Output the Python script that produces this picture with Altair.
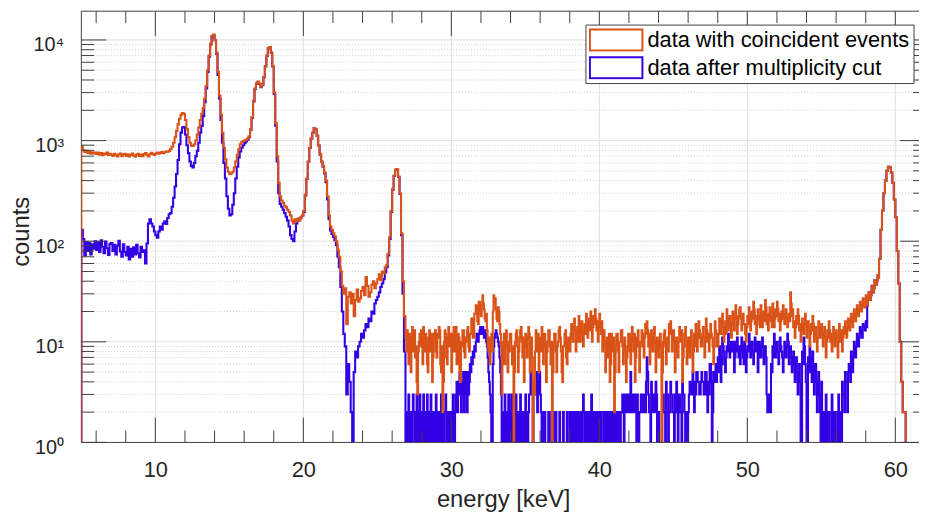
import altair as alt
import pandas as pd
import numpy as np

# ---------------- data ----------------
# Segment A: 0.1 keV bins starting at 4.9 keV (smooth part of the spectra)
A_START, A_STEP = 4.9, 0.1
# Segment B: 0.05 keV bins starting at 26.9 keV (noisy part)
B_START, B_STEP = 26.9, 0.05
# Segment C: 0.1 keV bins starting at 58.9 keV (Am-241 line)
C_START, C_STEP = 58.9, 0.1

coincident_A = [
    0,
    870, 800, 770, 790, 755, 775, 740, 765, 745, 760,            # 5
    735, 760, 725, 750, 715, 745, 730, 760, 720, 740,            # 6
    725, 705, 740, 715, 695, 730, 745, 700, 725, 740,            # 7
    705, 730, 695, 720, 745, 710, 690, 725, 740, 705,            # 8
    725, 700, 735, 750, 715, 695, 735, 755, 730, 720,            # 9
    745, 760, 740, 755, 770, 750, 765, 780, 775, 790,            # 10
    825, 870, 950, 1080, 1250, 1450, 1650, 1800, 1880, 1850,     # 11
    1600, 1300, 1080, 950, 890, 883, 920, 1000, 1150, 1350,      # 12
    1600, 1850, 2100, 2600, 3500, 5000, 7000, 9200, 11000, 11300,  # 13
    10000, 7500, 4800, 2800, 1800, 1200, 850, 650, 540, 490,     # 14
    467, 470, 490, 540, 620, 720, 820, 920, 960, 990,            # 15
    1000, 1020, 1050, 1100, 1300, 1700, 2500, 3300, 3700, 3860,  # 16
    3700, 3440, 3600, 4300, 5500, 7000, 8300, 8520, 7500, 5500,  # 17
    3000, 1500, 700, 380, 280, 254, 240, 225, 217, 205,          # 18
    195, 180, 160, 150, 165, 158, 168, 160, 172, 180,            # 19
    200, 290, 420, 620, 850, 1050, 1200, 1336, 1300, 1120,       # 20
    900, 731, 620, 560, 480, 400, 280, 180, 140, 130,            # 21
    120, 112, 100, 82, 70, 50, 36, 30, 34, 15,                   # 22
    28, 31, 24, 30, 18, 26, 33, 25, 27, 32,                      # 23
    35, 29, 44, 36, 28, 31, 37, 40, 34, 38,                      # 24
    42, 47, 41, 50, 48, 55, 58, 75, 110, 200,                    # 25
    330, 450, 515, 520, 440, 300, 120, 40, 18,                   # 26.0-26.8
]
coincident_B = [
    11, 8, 13, 9, 6, 12, 10, 5, 11, 14, 8, 12, 13, 7, 9, 4, 3, 8, 10, 12,           # 26.9
    9, 13, 11, 6, 14, 9, 8, 12, 10, 6, 5, 11, 13, 8, 9, 12, 4, 7, 12, 10,           # 27.9
    13, 8, 7, 12, 11, 14, 13, 6, 5, 9, 2, 4, 10, 13, 12, 7, 6, 11, 14, 9,           # 28.9
    9, 12, 5, 8, 12, 14, 8, 11, 14, 6, 6, 12, 11, 5, 4, 10, 9, 13, 13, 8,           # 29.9
    7, 11, 10, 13, 14, 9, 8, 12, 12, 17, 17, 11, 11, 19, 19, 23, 22, 16, 15, 25,    # 30.9
    25, 20, 18, 23, 29, 24, 21, 17, 16, 19, 13, 9, 8, 11, 6, 9, 12, 8, 20, 29,      # 31.9
    24, 27, 21, 17, 16, 22, 20, 15, 12, 9, 3, 6, 10, 12, 6, 9, 13, 10, 5, 8,        # 32.9
    10, 12, 12, 8, 6, 9, 0, 5, 10, 12, 13, 9, 5, 8, 11, 13, 14, 10, 7, 11,          # 33.9
    4, 9, 12, 10, 7, 11, 14, 12, 5, 8, 11, 7, 0, 4, 3, 8, 13, 11, 8, 12,            # 34.9
    5, 9, 11, 8, 14, 12, 6, 9, 12, 10, 4, 8, 10, 13, 13, 9, 6, 10, 0, 5,            # 35.9
    9, 12, 12, 8, 5, 9, 10, 13, 14, 11, 8, 5, 4, 9, 9, 12, 13, 7, 6, 10,            # 36.9
    11, 8, 8, 12, 15, 11, 10, 14, 17, 13, 8, 11, 14, 10, 18, 15, 10, 13, 16, 12,    # 37.9
    9, 13, 15, 12, 19, 16, 11, 14, 17, 13, 20, 18, 10, 14, 18, 15, 21, 17, 13, 16,  # 38.9
    10, 14, 19, 15, 12, 16, 8, 11, 13, 9, 5, 10, 11, 7, 7, 12, 4, 6, 12, 9,         # 39.9
    8, 11, 2, 5, 9, 12, 12, 8, 5, 10, 10, 13, 13, 9, 6, 10, 11, 8, 4, 7,            # 40.9
    9, 12, 12, 8, 6, 11, 14, 10, 8, 12, 4, 7, 11, 9, 13, 10, 5, 9, 10, 13,          # 41.9
    12, 9, 7, 11, 15, 12, 16, 13, 9, 12, 6, 10, 13, 9, 8, 11, 14, 10, 5, 9,         # 42.9
    11, 8, 7, 10, 12, 9, 0, 5, 10, 12, 13, 9, 6, 10, 11, 8, 15, 12, 16, 13,         # 43.9
    8, 11, 13, 10, 5, 8, 11, 9, 7, 10, 14, 11, 10, 13, 4, 7, 9, 12, 14, 10,         # 44.9
    6, 9, 11, 8, 7, 11, 13, 9, 5, 8, 12, 9, 15, 12, 8, 11, 16, 13, 11, 9,           # 45.9
    9, 12, 14, 11, 7, 10, 17, 13, 10, 12, 8, 11, 15, 12, 11, 9, 6, 9, 16, 13,       # 46.9
    12, 9, 9, 12, 17, 14, 12, 16, 19, 14, 10, 13, 16, 12, 21, 17, 13, 15, 18, 14,   # 47.9
    11, 15, 20, 16, 13, 17, 23, 18, 12, 15, 18, 21, 22, 17, 13, 16, 19, 15, 15, 12, # 48.9
    10, 14, 18, 15, 22, 19, 13, 16, 20, 17, 25, 21, 15, 18, 12, 15, 21, 18, 17, 14, # 49.9
    23, 19, 14, 17, 20, 16, 26, 22, 15, 19, 13, 16, 22, 18, 17, 14, 24, 20, 14, 17, # 50.9
    21, 18, 25, 21, 16, 19, 13, 16, 20, 17, 23, 19, 15, 18, 21, 17, 14, 16, 19, 16, # 51.9
    31, 24, 18, 21, 14, 16, 11, 14, 18, 15, 21, 18, 13, 15, 10, 13, 17, 14, 12, 15, # 52.9
    19, 16, 11, 14, 16, 13, 9, 12, 15, 13, 18, 15, 10, 13, 14, 11, 8, 11, 16, 13,   # 53.9
    11, 14, 15, 12, 9, 12, 14, 11, 7, 10, 13, 11, 16, 13, 10, 12, 8, 11, 14, 12,    # 54.9
    9, 12, 13, 10, 7, 10, 15, 12, 10, 13, 8, 11, 14, 12, 16, 13, 11, 14, 17, 14,    # 55.9
    13, 16, 19, 16, 14, 17, 21, 18, 16, 19, 23, 20, 18, 21, 25, 22, 20, 23, 27, 24, # 56.9
    22, 25, 29, 26, 23, 26, 31, 28, 26, 29, 36, 32, 31, 34, 41, 38, 37, 40, 46, 43, # 57.9
]
coincident_C = [
    67,                                                          # 58.9
    130, 202, 300, 400, 500, 548, 540, 480, 380, 260,            # 59
    173, 80, 38, 10, 4, 2, 2, 0, 0, 0,                           # 60
    0, 0, 0, 0, 0, 0, 0, 0, 0, 0,                                # 61
]

multiplicity_cut_A = [
    0,
    130, 105, 72, 98, 80, 96, 74, 93, 84, 100,                   # 5
    82, 97, 78, 102, 88, 76, 99, 85, 73, 94,                     # 6
    96, 80, 92, 74, 90, 101, 79, 70, 93, 78,                     # 7
    72, 88, 66, 84, 70, 87, 74, 92, 76, 69,                      # 8
    88, 78, 81, 60, 95, 150, 165, 150, 140, 125,                 # 9
    115, 108, 125, 140, 130, 150, 158, 148, 170, 185,            # 10
    190, 220, 270, 350, 466, 640, 920, 1200, 1350, 1360,         # 11
    1150, 900, 750, 620, 560, 540, 600, 700, 790, 950,           # 12
    1200, 1400, 1750, 2400, 3300, 4800, 6800, 9000, 10800, 11200,  # 13
    9900, 7300, 4500, 2600, 1600, 950, 600, 420, 280, 210,       # 14
    180, 185, 230, 300, 420, 550, 680, 780, 850, 900,            # 15
    940, 980, 1020, 1080, 1280, 1680, 2450, 3250, 3650, 3800,    # 16
    3650, 3400, 3550, 4250, 5450, 6950, 8250, 8450, 7450, 5450,  # 17
    2900, 1400, 620, 300, 235, 220, 205, 190, 175, 160,          # 18
    140, 115, 105, 100, 125, 150, 160, 168, 172, 180,            # 19
    195, 285, 415, 615, 845, 1045, 1195, 1330, 1295, 1115,       # 20
    895, 725, 615, 550, 470, 385, 260, 165, 128, 118,            # 21
    110, 102, 92, 70, 55, 35, 20, 12, 9, 3,                      # 22
    6, 4, 2, 0, 5, 8, 7, 9, 10, 12,                              # 23
    11, 13, 15, 14, 17, 16, 20, 19, 24, 26,                      # 24
    28, 31, 35, 38, 42, 49, 55, 72, 105, 195,                    # 25
    325, 445, 510, 515, 435, 295, 115, 30, 8,                    # 26.0-26.8
]
multiplicity_cut_B = [
    0, 2, 0, 2, 3, 0, 2, 0, 0, 2, 3, 2, 0, 2, 0, 3, 2, 0, 2, 3,                     # 26.9
    0, 2, 2, 0, 3, 0, 2, 2, 0, 3, 2, 0, 0, 2, 3, 0, 2, 0, 2, 2,                     # 27.9
    0, 3, 2, 0, 2, 2, 0, 2, 3, 0, 0, 2, 0, 2, 3, 2, 0, 2, 2, 0,                     # 28.9
    2, 0, 2, 0, 3, 2, 0, 2, 3, 4, 2, 3, 4, 5, 3, 2, 4, 3, 5, 2,                     # 29.9
    3, 5, 4, 2, 5, 3, 4, 6, 5, 7, 6, 8, 7, 9, 8, 10, 12, 11, 10, 12,                # 30.9
    13, 14, 12, 13, 14, 12, 11, 13, 12, 10, 9, 7, 5, 4, 3, 2, 0, 0, 6, 9,           # 31.9
    11, 12, 13, 12, 11, 10, 9, 7, 5, 3, 0, 0, 2, 0, 3, 2, 0, 2, 0, 3,               # 32.9
    2, 0, 2, 3, 0, 0, 0, 2, 0, 3, 2, 0, 2, 0, 2, 3, 0, 2, 0, 2,                     # 33.9
    0, 2, 3, 0, 2, 0, 2, 3, 3, 5, 4, 3, 0, 4, 3, 3, 4, 5, 2, 3,                     # 34.9
    4, 5, 3, 2, 0, 2, 0, 0, 2, 0, 0, 0, 0, 2, 0, 0, 0, 2, 0, 0,                     # 35.9
    2, 0, 0, 2, 0, 0, 0, 0, 2, 0, 0, 0, 0, 2, 0, 0, 0, 0, 2, 0,                     # 36.9
    0, 0, 2, 0, 2, 0, 0, 2, 0, 0, 2, 0, 2, 2, 0, 0, 2, 0, 0, 2,                     # 37.9
    3, 2, 0, 2, 0, 2, 2, 0, 0, 2, 0, 3, 2, 0, 2, 0, 0, 2, 2, 0,                     # 38.9
    2, 0, 0, 2, 2, 0, 0, 0, 2, 0, 2, 0, 0, 2, 0, 2, 2, 0, 0, 2,                     # 39.9
    0, 0, 2, 0, 0, 2, 2, 0, 0, 2, 0, 2, 2, 3, 2, 0, 3, 2, 2, 3,                     # 40.9
    2, 3, 3, 2, 5, 3, 2, 2, 3, 2, 2, 3, 0, 3, 2, 0, 2, 2, 3, 2,                     # 41.9
    2, 3, 3, 2, 2, 4, 7, 5, 3, 2, 2, 0, 4, 3, 2, 3, 3, 2, 4, 3,                     # 42.9
    0, 2, 2, 0, 0, 0, 0, 2, 3, 2, 2, 0, 4, 3, 3, 0, 2, 2, 4, 3,                     # 43.9
    3, 2, 2, 0, 3, 2, 4, 3, 0, 2, 3, 2, 2, 0, 4, 3, 3, 2, 0, 2,                     # 44.9
    2, 0, 2, 3, 4, 3, 3, 4, 5, 3, 2, 4, 3, 5, 5, 4, 4, 3, 3, 4,                     # 45.9
    5, 4, 4, 3, 3, 5, 5, 3, 2, 4, 3, 6, 6, 4, 0, 2, 5, 4, 5, 6,                     # 46.9
    4, 5, 7, 5, 9, 7, 4, 6, 11, 9, 8, 6, 5, 7, 9, 8, 12, 9, 7, 8,                   # 47.9
    10, 8, 8, 10, 5, 7, 10, 8, 11, 9, 7, 9, 6, 8, 11, 9, 7, 6, 10, 8,               # 48.9
    5, 7, 9, 8, 12, 10, 7, 9, 10, 8, 6, 8, 11, 9, 8, 10, 5, 7, 10, 8,               # 49.9
    7, 9, 11, 9, 6, 8, 9, 7, 3, 2, 2, 3, 3, 2, 6, 5, 9, 7, 12, 10,                  # 50.9
    7, 9, 10, 8, 6, 8, 11, 9, 8, 7, 5, 7, 10, 8, 7, 9, 12, 10, 6, 8,                # 51.9
    9, 7, 5, 6, 8, 7, 4, 6, 7, 5, 3, 5, 6, 4, 0, 0, 8, 6, 11, 9,                    # 52.9
    6, 4, 0, 0, 7, 5, 9, 7, 5, 4, 8, 6, 3, 5, 6, 4, 2, 3, 5, 3,                     # 53.9
    2, 0, 4, 2, 0, 0, 2, 0, 3, 2, 0, 0, 2, 0, 0, 0, 3, 2, 0, 0,                     # 54.9
    2, 0, 0, 0, 2, 3, 0, 0, 2, 0, 4, 3, 3, 2, 5, 4, 4, 2, 5, 6,                     # 55.9
    6, 4, 8, 6, 5, 7, 10, 8, 7, 9, 12, 10, 9, 11, 14, 12, 13, 11, 15, 14,           # 56.9
    14, 13, 16, 14, 23, 26, 31, 28, 26, 29, 36, 32, 31, 34, 41, 38, 37, 40, 46, 43, # 57.9
]
multiplicity_cut_C = [
    67,                                                          # 58.9
    130, 202, 300, 400, 500, 548, 540, 480, 380, 260,            # 59
    173, 80, 38, 10, 4, 2, 2, 0, 0, 0,                           # 60
    0, 0, 0, 0, 0, 0, 0, 0, 0, 0,                                # 61
]

series_names = ["data with coincident events", "data after multiplicity cut"]
series_colors = ["#D95319", "#3300E6"]

x_major = [10, 20, 30, 40, 50, 60]
x_minor = [6, 8, 12, 14, 16, 18, 22, 24, 26, 28, 32, 34, 36, 38,
           42, 44, 46, 48, 52, 54, 56, 58]
y_major = [1, 10, 100, 1000, 10000]
y_minor = [m * d for d in [1, 10, 100, 1000] for m in range(2, 10)]
y_sup = ["\u2070", "\u00b9", "\u00b2", "\u00b3", "\u2074"]

# ---------------- build table ----------------
def edges(start, step, count):
    return [round(start + step * i, 3) for i in range(count)]

rows = []
segments = {
    series_names[0]: [(A_START, A_STEP, coincident_A), (B_START, B_STEP, coincident_B),
                      (C_START, C_STEP, coincident_C)],
    series_names[1]: [(A_START, A_STEP, multiplicity_cut_A), (B_START, B_STEP, multiplicity_cut_B),
                      (C_START, C_STEP, multiplicity_cut_C)],
}
for name, segs in segments.items():
    for start, step, vals in segs:
        for e, v in zip(edges(start, step, len(vals)), vals):
            rows.append({"energy": e, "counts": max(v, 0.3), "series": name})
df = pd.DataFrame(rows).sort_values(["series", "energy"])

# ---------------- layout ----------------
W, H = 845, 435
FONT = "Liberation Sans"
TXT = "#262626"
AX = "#404040"

xs = alt.Scale(domain=[5, 61.6], nice=False, zero=False)
ys = alt.Scale(type="log", domain=[1, 19307], nice=False)

xaxis = alt.Axis(values=x_major, ticks=False, domain=False, grid=False,
                 labelFont=FONT, labelFontSize=22, labelColor=TXT,
                 labelPadding=17, labelFlush=False,
                 title="energy [keV]", titleFont=FONT, titleFontSize=24,
                 titleFontWeight="normal", titleColor=TXT,
                 titleX=425.5, titleY=65, titleBaseline="alphabetic",
                 titleAlign="center")
sup_js = "[" + ",".join("'" + s + "'" for s in y_sup) + "]"
yaxis = alt.Axis(values=y_major, ticks=False, domain=False, grid=False,
                 labelExpr="'10' + " + sup_js + "[round(log(datum.value)/LN10)]",
                 labelFont=FONT, labelFontSize=20, labelColor=TXT,
                 labelPadding=18, labelBaseline="middle", labelOffset=5,
                 labelFlush=False,
                 title="counts", titleFont=FONT, titleFontSize=24,
                 titleFontWeight="normal", titleColor=TXT, titleAngle=270,
                 titleX=-53.5, titleY=222, titleBaseline="alphabetic",
                 titleAlign="center")

X = lambda: alt.X("energy:Q", scale=xs, axis=xaxis)
Y = lambda: alt.Y("counts:Q", scale=ys, axis=yaxis)

# grids
ygrid_minor = alt.Chart(pd.DataFrame({"counts": y_minor})).mark_rule(
    color="#c4c4c4", strokeDash=[1, 2], strokeWidth=0.8
).encode(y=Y(), x=alt.value(0), x2=alt.value(W))
ygrid_major = alt.Chart(pd.DataFrame({"counts": y_major[1:]})).mark_rule(
    color="#dedede", strokeWidth=1
).encode(y=Y(), x=alt.value(0), x2=alt.value(W))
xgrid_major = alt.Chart(pd.DataFrame({"energy": x_major})).mark_rule(
    color="#dedede", strokeWidth=1
).encode(x=X(), y=alt.value(0), y2=alt.value(H))

color = alt.Color(
    "series:N",
    scale=alt.Scale(domain=series_names, range=series_colors),
    legend=alt.Legend(
        orient="none", legendX=508.5, legendY=13.5, title=None,
        symbolType="M-1,-0.4H1V0.4H-1Z", symbolSize=2809,
        symbolStrokeWidth=2, symbolFillColor="white",
        labelFont=FONT, labelFontSize=22, labelColor="black",
        labelOffset=4, clipHeight=24, rowPadding=4, padding=3.5,
        strokeColor=AX, fillColor="white", labelLimit=400,
    ),
)

blue_line = alt.Chart(df).transform_filter(
    alt.datum.series == series_names[1]
).mark_line(interpolate="step-after", strokeWidth=2.1, clip=True).encode(
    x=X(), y=Y(), color=color, order="energy:Q"
)
orange_line = alt.Chart(df).transform_filter(
    alt.datum.series == series_names[0]
).mark_line(interpolate="step-after", strokeWidth=2.1, clip=True).encode(
    x=X(), y=Y(), color=color, order="energy:Q"
)

# ticks (pointing inward) and box lines
def xticks(vals, length):
    d = pd.DataFrame({"energy": vals})
    bottom = alt.Chart(d).mark_rule(color=AX, strokeWidth=1).encode(
        x=X(), y=alt.value(H), y2=alt.value(H - length))
    top = alt.Chart(d).mark_rule(color=AX, strokeWidth=1).encode(
        x=X(), y=alt.value(0), y2=alt.value(length))
    return [bottom, top]

def yticks(vals, length, right_len):
    d = pd.DataFrame({"counts": vals})
    left = alt.Chart(d).mark_rule(color=AX, strokeWidth=1).encode(
        y=Y(), x=alt.value(0), x2=alt.value(length))
    right = alt.Chart(d).mark_rule(color=AX, strokeWidth=1).encode(
        y=Y(), x=alt.value(W - right_len), x2=alt.value(W))
    return [left, right]

box_d = pd.DataFrame({"energy": [5]})
box_top = alt.Chart(box_d).mark_rule(color=AX, strokeWidth=1).encode(
    x=alt.value(0), x2=alt.value(W), y=alt.value(0))
box_bottom = alt.Chart(box_d).mark_rule(color=AX, strokeWidth=1).encode(
    x=alt.value(0), x2=alt.value(W), y=alt.value(H))
box_left = alt.Chart(box_d).mark_rule(color=AX, strokeWidth=1).encode(
    x=alt.value(0), y=alt.value(0), y2=alt.value(H))

layers = [ygrid_minor, ygrid_major, xgrid_major, box_left,
          blue_line, orange_line, box_top, box_bottom]
layers += xticks(x_major, 25) + xticks(x_minor, 12)
layers += yticks(y_major, 25, 19) + yticks(y_minor, 13, 6)

chart = alt.layer(*layers).properties(
    width=W, height=H,
    padding={"left": 74, "top": 1, "right": 0, "bottom": 74},
    autosize=alt.AutoSizeParams(type="none"),
    background="white",
).configure_view(stroke="transparent")

chart.save("out.html", embed_options={"renderer": "svg", "actions": False})
